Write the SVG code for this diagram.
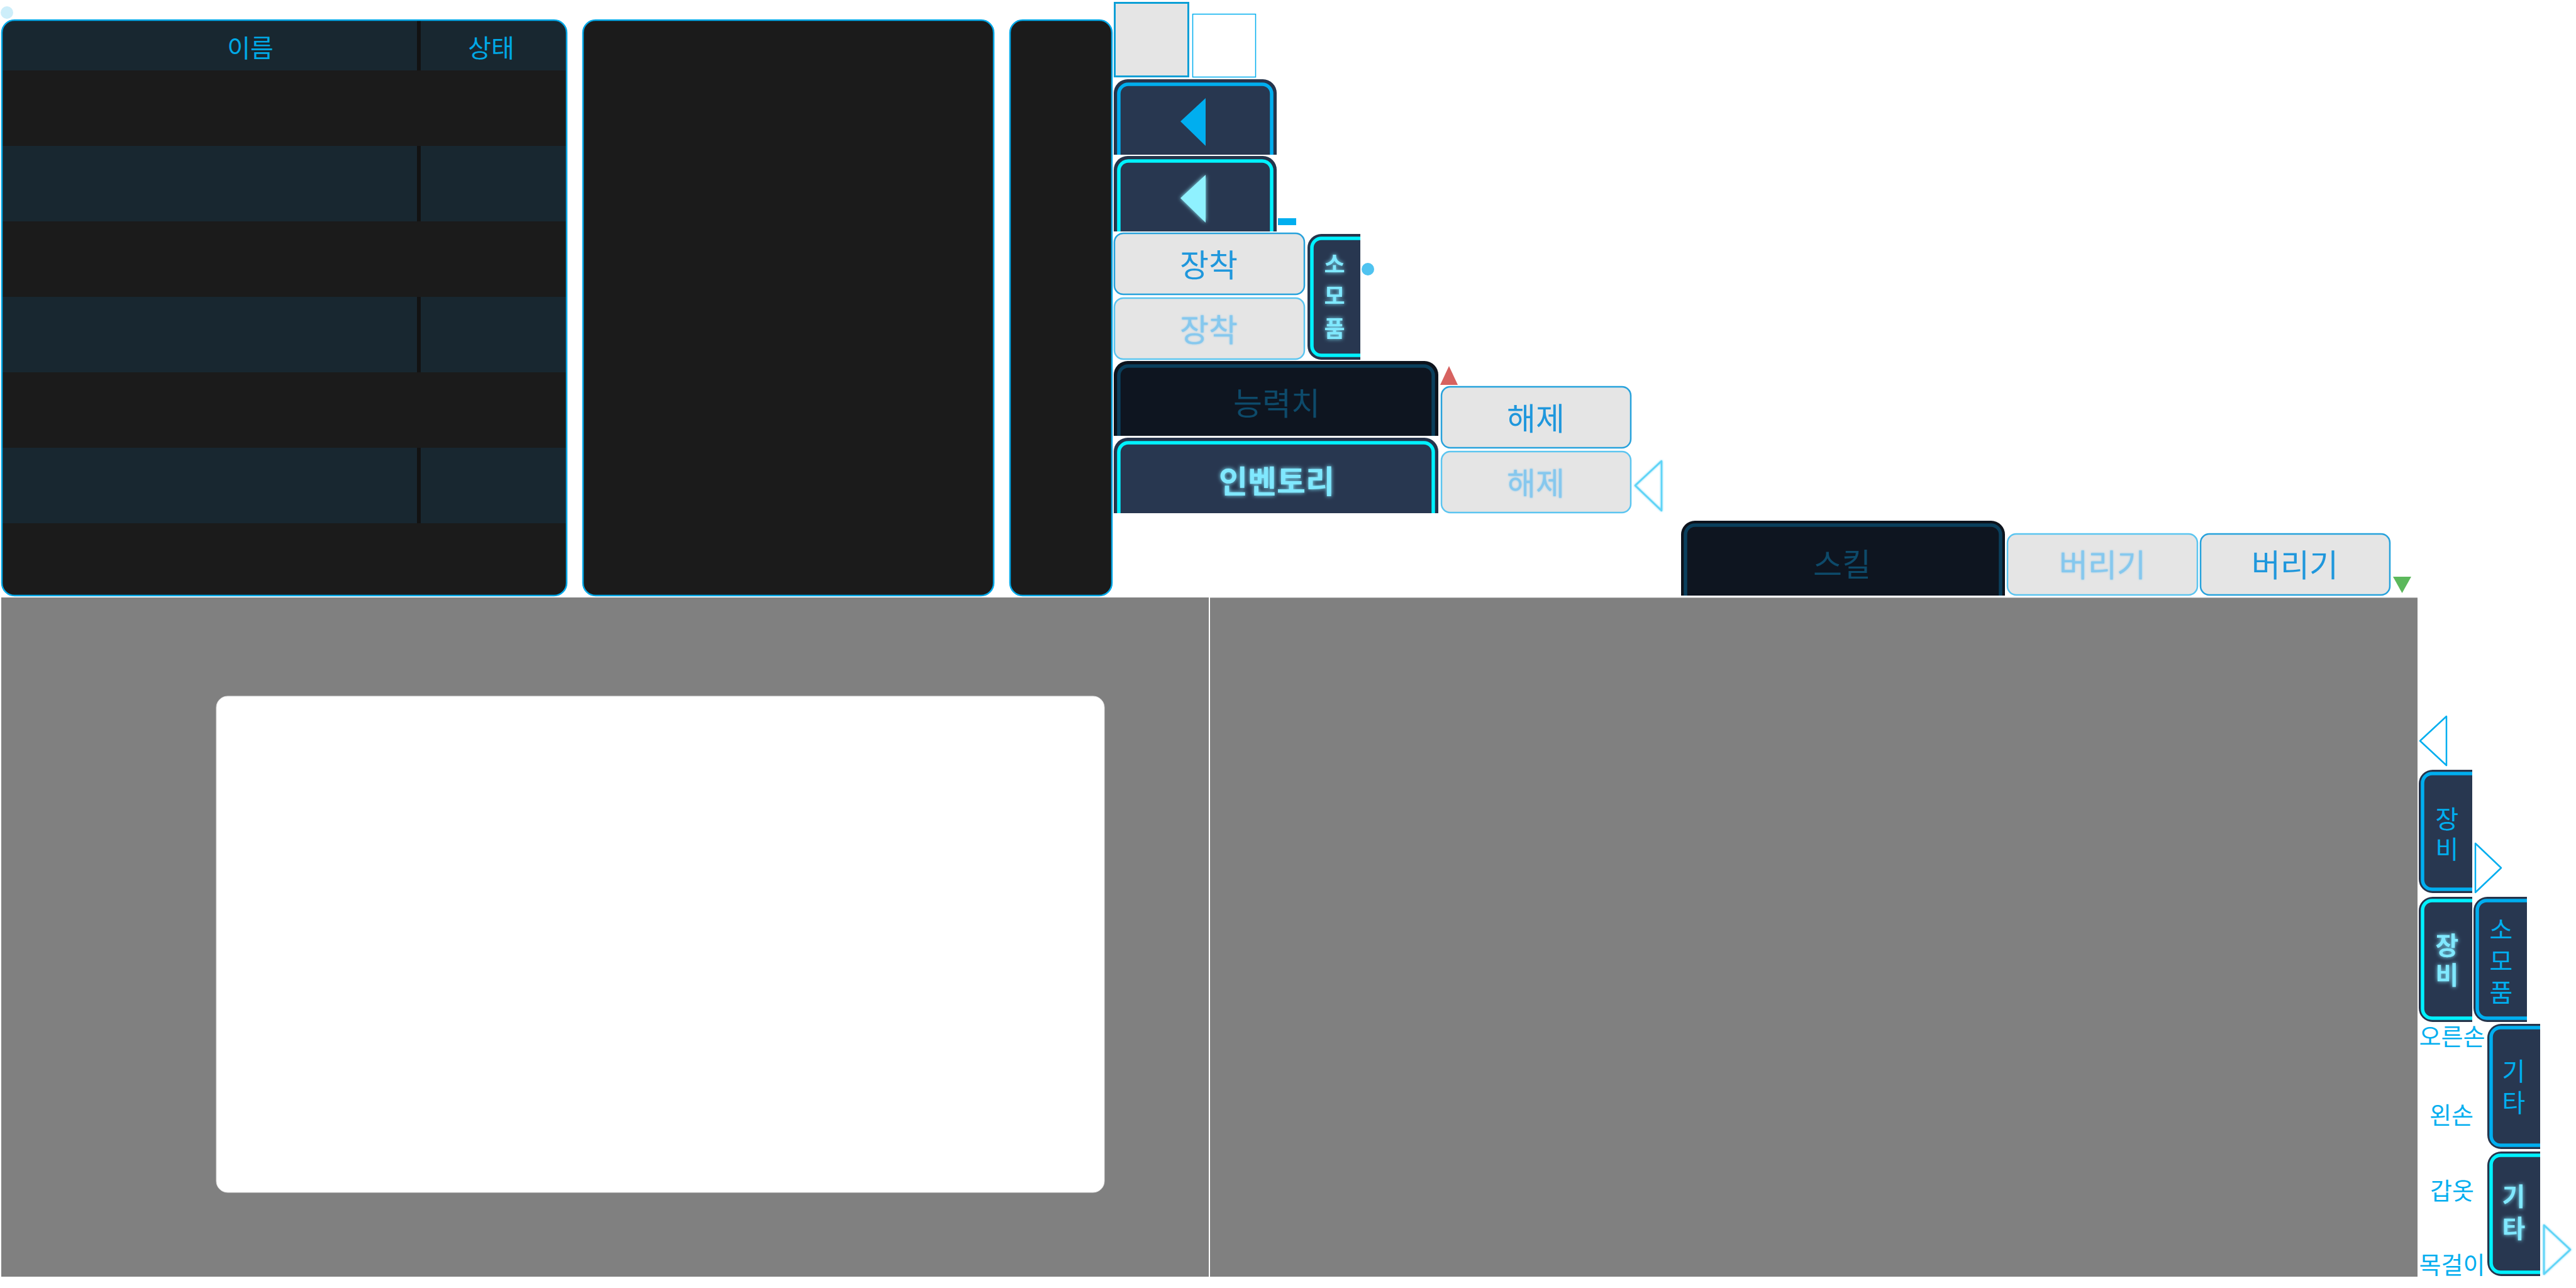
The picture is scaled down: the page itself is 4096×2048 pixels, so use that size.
<svg xmlns="http://www.w3.org/2000/svg" width="4096" height="2048" viewBox="0 0 4096 2048">
<style>
text{font-family:"Liberation Sans","Noto Sans CJK KR",sans-serif;text-anchor:middle}
.panel{fill:#1b1b1b;stroke:#00a8e8;stroke-width:2.5}
.hdr{fill:#182730}
.div{fill:#121212}
.htxt{font-size:40px;fill:#00a9e6}
.btn{fill:#e5e5e5;stroke:#27a2dc;stroke-width:2.5}
.btnd{fill:#e5e5e5;stroke:#5cc5f0;stroke-width:2.5}
.btxt{font-size:50px;fill:#1f97dc}
.btxtd{font-size:50px;fill:#86c8ee}
.tabo{fill:#26344b}
.tabi{fill:#283750;stroke:#00aeef;stroke-width:5.5}
.tabia{fill:#283750;stroke:#00f2ff;stroke-width:5.5}
.dko{fill:#0d131c}
.dki{fill:#0e1520;stroke:#0a3f5c;stroke-width:5.5}
.dktxt{font-size:50px;fill:#0d4a6a}
.ttxt{font-size:40px;fill:#00aeef}
.ttxta{font-size:40px;fill:#80e8ff;font-weight:bold}
.lbl{font-size:38px;fill:#00aeef}
.tri{fill:none;stroke:#00aeef;stroke-width:2.5;stroke-linejoin:round}
.trig{fill:none;stroke:#5fd4f7;stroke-width:2.5;stroke-linejoin:round}
.gray{fill:#808080}
</style>
<defs>
<filter id="glow" x="-50%" y="-50%" width="200%" height="200%">
<feGaussianBlur in="SourceGraphic" stdDeviation="3" result="b"/>
<feMerge><feMergeNode in="b"/><feMergeNode in="SourceGraphic"/></feMerge>
</filter>
<filter id="soft" x="-30%" y="-30%" width="160%" height="160%">
<feGaussianBlur in="SourceGraphic" stdDeviation="1.5" result="b"/>
<feMerge><feMergeNode in="b"/><feMergeNode in="SourceGraphic"/></feMerge>
</filter>
<clipPath id="cp1"><rect x="3" y="32" width="898" height="915" rx="20"/></clipPath>
<clipPath id="cArrow1"><rect x="1771" y="126" width="259" height="120"/></clipPath>
<clipPath id="cArrow2"><rect x="1771" y="248" width="259" height="120"/></clipPath>
<clipPath id="cStat"><rect x="1771" y="574" width="516" height="119"/></clipPath>
<clipPath id="cInv"><rect x="1771" y="696" width="516" height="120"/></clipPath>
<clipPath id="cCons"><rect x="2079" y="372" width="84" height="200"/></clipPath>
<clipPath id="cSkill"><rect x="2673" y="828" width="515" height="119"/></clipPath>
<clipPath id="cEq1"><rect x="3846" y="1224" width="85" height="196"/></clipPath>
<clipPath id="cEq2"><rect x="3846" y="1426" width="85" height="199"/></clipPath>
<clipPath id="cCons2"><rect x="3933" y="1426" width="85" height="199"/></clipPath>
<clipPath id="cEtc1"><rect x="3955" y="1628" width="84" height="199"/></clipPath>
<clipPath id="cEtc2"><rect x="3955" y="1831" width="84" height="198"/></clipPath>
</defs>
<rect width="4096" height="2048" fill="#ffffff"/>

<g id="dot-top"><circle cx="11" cy="20" r="10" fill="#cdeefa"/></g>

<g id="list-panel">
<g clip-path="url(#cp1)">
<rect x="3" y="32" width="898" height="915" fill="#1b1b1b"/>
<rect class="hdr" x="3" y="32" width="898" height="80"/>
<rect class="hdr" x="3" y="232" width="898" height="120"/>
<rect class="hdr" x="3" y="472" width="898" height="120"/>
<rect class="hdr" x="3" y="712" width="898" height="120"/>
<rect class="div" x="663" y="32" width="6" height="80"/>
<rect class="div" x="663" y="232" width="6" height="120"/>
<rect class="div" x="663" y="472" width="6" height="120"/>
<rect class="div" x="663" y="712" width="6" height="120"/>
</g>
<rect x="3" y="32" width="898" height="915" rx="20" fill="none" stroke="#00a8e8" stroke-width="2.5"/>
<text class="htxt" x="398" y="91">이름</text>
<text class="htxt" x="781" y="91">상태</text>
</g>

<g id="panel-2"><rect class="panel" x="927" y="32" width="653" height="915" rx="20"/></g>
<g id="panel-3"><rect class="panel" x="1606" y="32" width="162" height="915" rx="20"/></g>

<g id="slot-gray"><rect x="1772.5" y="4.5" width="117" height="117" fill="#e5e5e5" stroke="#0a9fd6" stroke-width="3"/></g>
<g id="slot-white"><rect x="1896.5" y="22.5" width="100" height="100" fill="#ffffff" stroke="#00aeef" stroke-width="1.5"/></g>

<g id="btn-arrow" clip-path="url(#cArrow1)">
<rect class="tabo" x="1771" y="126" width="259" height="170" rx="22"/>
<rect class="tabi" x="1779" y="134" width="243" height="170" rx="15"/>
<polygon points="1877,193 1917,156 1917,232" fill="#00aeef"/>
</g>
<g id="btn-arrow-active" clip-path="url(#cArrow2)">
<rect class="tabo" x="1771" y="248" width="259" height="170" rx="22"/>
<rect class="tabia" x="1779" y="256" width="243" height="170" rx="15"/>
<polygon points="1877,315 1917,278 1917,354" fill="#8ff1ff" filter="url(#glow)"/>
</g>
<g id="mark-rect"><rect x="2032" y="347" width="29" height="11" fill="#00aeef"/></g>

<g id="btn-equip"><rect class="btn" x="1772" y="371" width="302" height="97" rx="14"/><text class="btxt" x="1922" y="440">장착</text></g>
<g id="btn-equip-dis"><rect class="btnd" x="1772" y="474" width="302" height="97" rx="14"/><text class="btxtd" x="1922" y="543" filter="url(#soft)">장착</text></g>

<g id="tab-consumable-top">
<g clip-path="url(#cCons)">
<rect class="tabo" x="2079" y="372" width="140" height="200" rx="22"/>
<rect class="tabia" x="2086" y="379" width="125" height="186" rx="15"/>
</g>
<text class="ttxta" x="2122" y="434" font-size="36" style="font-size:36px" filter="url(#glow)">소</text>
<text class="ttxta" x="2122" y="484" style="font-size:36px" filter="url(#glow)">모</text>
<text class="ttxta" x="2122" y="536" style="font-size:36px" filter="url(#glow)">품</text>
</g>
<g id="dot-blue"><circle cx="2175" cy="428" r="10" fill="#4fc3f0"/></g>

<g id="btn-stat" clip-path="url(#cStat)">
<rect class="dko" x="1771" y="574" width="516" height="170" rx="22"/>
<rect class="dki" x="1779" y="582" width="500" height="170" rx="15"/>
<text class="dktxt" x="2030" y="660">능력치</text>
</g>
<g id="tri-red"><polygon points="2304,582 2290,612 2318,612" fill="#d76260"/></g>

<g id="btn-inventory" clip-path="url(#cInv)">
<rect class="tabo" x="1771" y="696" width="516" height="170" rx="22"/>
<rect class="tabia" x="1779" y="704" width="500" height="170" rx="15"/>
<text class="ttxta" x="2030" y="784" style="font-size:50px" filter="url(#glow)">인벤토리</text>
</g>

<g id="btn-release"><rect class="btn" x="2292" y="615" width="301" height="97" rx="14"/><text class="btxt" x="2442" y="684">해제</text></g>
<g id="btn-release-dis"><rect class="btnd" x="2292" y="718" width="301" height="97" rx="14"/><text class="btxtd" x="2442" y="787" filter="url(#soft)">해제</text></g>
<g id="tri-left-1"><polygon class="trig" points="2600,772 2642,733 2642,812" filter="url(#soft)"/></g>

<g id="btn-skill" clip-path="url(#cSkill)">
<rect class="dko" x="2673" y="828" width="515" height="170" rx="22"/>
<rect class="dki" x="2680" y="835" width="501" height="170" rx="15"/>
<text class="dktxt" x="2929" y="916">스킬</text>
</g>
<g id="btn-drop-dis"><rect class="btnd" x="3192" y="849" width="302" height="97" rx="14"/><text class="btxtd" x="3343" y="917" filter="url(#soft)">버리기</text></g>
<g id="btn-drop"><rect class="btn" x="3499" y="849" width="301" height="97" rx="14"/><text class="btxt" x="3649" y="917">버리기</text></g>
<g id="tri-green"><polygon points="3805,917 3834,917 3819.5,943" fill="#5cb85c"/></g>

<g id="screen-left">
<rect class="gray" x="2" y="950" width="1920" height="1080"/>
<rect x="344" y="1107" width="1412" height="789" rx="18" fill="#ffffff" stroke="#e2e2e2" stroke-width="1"/>
</g>
<g id="screen-right">
<rect class="gray" x="1924" y="950" width="1920" height="1080"/>
<line x1="1924" y1="950.5" x2="3844" y2="950.5" stroke="#a8a8a8" stroke-width="1"/>
</g>

<g id="tri-left-2"><polygon class="tri" points="3848,1178 3890,1139 3890,1217"/></g>

<g id="tab-equip">
<g clip-path="url(#cEq1)">
<rect class="tabo" x="3846" y="1224" width="150" height="196" rx="22"/>
<rect class="tabi" x="3852" y="1230" width="135" height="184" rx="15"/>
</g>
<text class="ttxt" x="3891" y="1317">장</text>
<text class="ttxt" x="3891" y="1365">비</text>
</g>
<g id="tri-right-1"><polygon class="tri" points="3936,1341 3977,1380 3936,1419"/></g>

<g id="tab-equip-active">
<g clip-path="url(#cEq2)">
<rect class="tabo" x="3846" y="1426" width="150" height="199" rx="22"/>
<rect class="tabia" x="3852" y="1432" width="135" height="187" rx="15"/>
</g>
<text class="ttxta" x="3891" y="1518" filter="url(#glow)">장</text>
<text class="ttxta" x="3891" y="1565" filter="url(#glow)">비</text>
</g>

<g id="tab-consumable">
<g clip-path="url(#cCons2)">
<rect class="tabo" x="3933" y="1426" width="150" height="199" rx="22"/>
<rect class="tabi" x="3939" y="1432" width="135" height="187" rx="15"/>
</g>
<text class="ttxt" x="3977" y="1493">소</text>
<text class="ttxt" x="3977" y="1543">모</text>
<text class="ttxt" x="3977" y="1593">품</text>
</g>

<g id="tab-etc">
<g clip-path="url(#cEtc1)">
<rect class="tabo" x="3955" y="1628" width="150" height="199" rx="22"/>
<rect class="tabi" x="3961" y="1634" width="135" height="187" rx="15"/>
</g>
<text class="ttxt" x="3997" y="1718">기</text>
<text class="ttxt" x="3997" y="1768">타</text>
</g>

<g id="tab-etc-active">
<g clip-path="url(#cEtc2)">
<rect class="tabo" x="3955" y="1831" width="150" height="198" rx="22"/>
<rect class="tabia" x="3961" y="1837" width="135" height="186" rx="15"/>
</g>
<text class="ttxta" x="3997" y="1917" filter="url(#glow)">기</text>
<text class="ttxta" x="3997" y="1968" filter="url(#glow)">타</text>
</g>
<g id="tri-right-2"><polygon class="trig" points="4045,1948 4087,1987 4045,2026" filter="url(#soft)"/></g>

<g id="slot-labels">
<text class="lbl" x="3899" y="1662">오른손</text>
<text class="lbl" x="3898" y="1787">왼손</text>
<text class="lbl" x="3899" y="1907">갑옷</text>
<text class="lbl" x="3899" y="2025">목걸이</text>
</g>

<g id="connectors"></g>
</svg>
